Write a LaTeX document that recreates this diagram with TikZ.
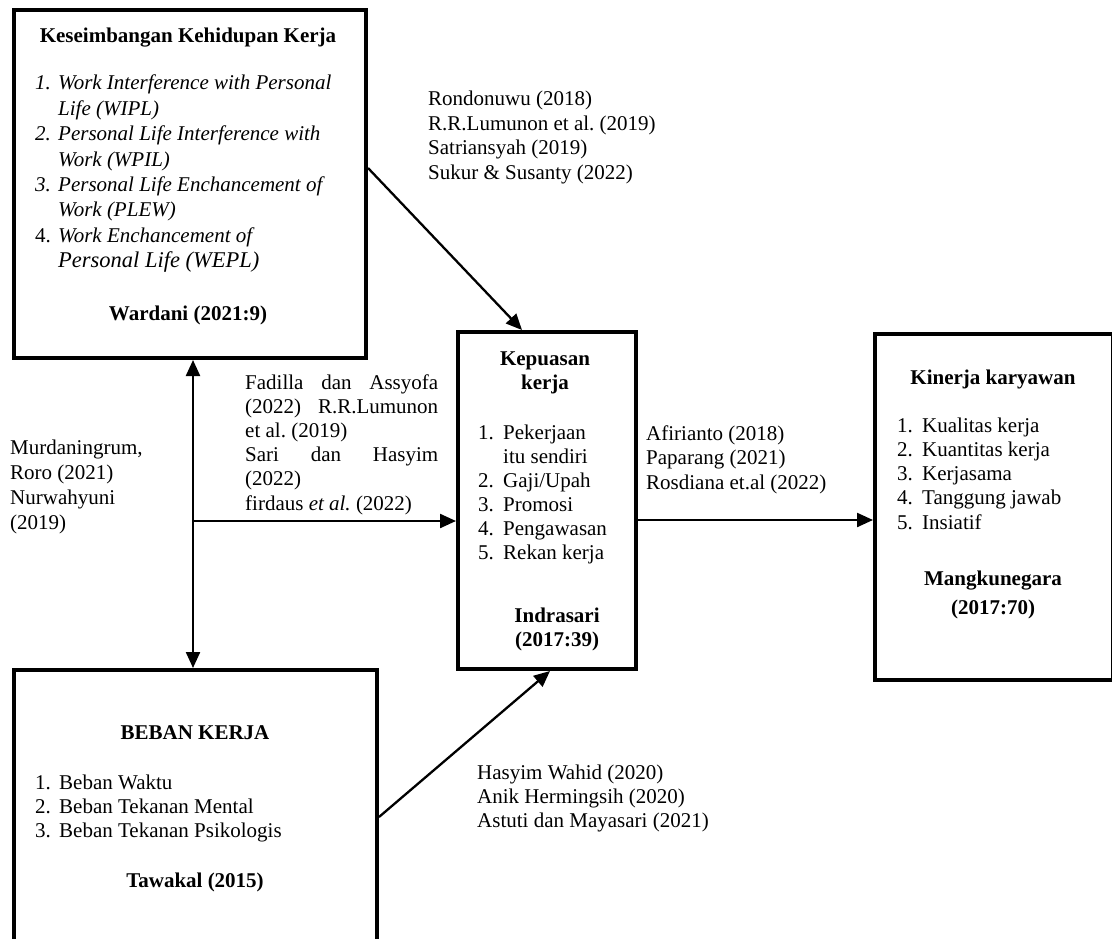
\documentclass[tikz,border=0pt]{standalone}
\usepackage{fontspec}
\setmainfont{Liberation Serif}
\usetikzlibrary{arrows.meta,calc}
\frenchspacing
\begin{document}
\begin{tikzpicture}[x=1pt,y=-1pt,
  box/.style={draw,line width=4pt,inner sep=0,anchor=north west},
  conn/.style={line width=2.3pt,-{Triangle[length=16pt,width=14pt]}},
  bconn/.style={line width=2.3pt,{Triangle[length=16pt,width=14pt]}-{Triangle[length=16pt,width=14pt]}},
  txt/.style={inner sep=0,anchor=north west,font=\fontsize{21}{24.5}\selectfont},
  ctxt/.style={inner sep=0,anchor=north,font=\bfseries\fontsize{21}{24.5}\selectfont},
]
\useasboundingbox (0,0) rectangle (1112,939);
% boxes
\node[box,minimum width=352pt,minimum height=348pt] (tl) at (12,8) {};
\node[box,minimum width=178pt,minimum height=337pt] (cen) at (456,330) {};
\node[box,minimum width=238pt,minimum height=346pt] (rt) at (873,332) {};
\node[box,minimum width=363pt,minimum height=290pt] (bl) at (12,668) {};

% top-left box text
\node[ctxt] (tlh) at (188,25) {Keseimbangan Kehidupan Kerja\strut};
\node[txt,font=\itshape\fontsize{21}{25.4}\selectfont] (tll) at (35,72) {%
\begin{tabular}{@{}p{23pt}@{}l@{}}
1. & Work Interference with Personal\\
   & Life (WIPL)\\
2. & Personal Life Interference with\\
   & Work (WPIL)\\
3. & Personal Life Enchancement of\\
   & Work (PLEW)\\
\upshape 4. & Work Enchancement of\\
   & {\fontsize{22.5}{25.4}\selectfont Personal Life (WEPL)}
\end{tabular}};
\node[ctxt] (tlw) at (188,303) {Wardani (2021:9)\strut};

% centre box text
\node[ctxt] (ch) at (545,348) {\begin{tabular}{@{}c@{}}Kepuasan\\kerja\end{tabular}};
\node[txt,font=\fontsize{21}{24}\selectfont] (cl) at (478,422) {%
\begin{tabular}{@{}p{25pt}@{}l@{}}
1. & Pekerjaan\\
   & itu sendiri\\
2. & Gaji/Upah\\
3. & Promosi\\
4. & Pengawasan\\
5. & Rekan kerja
\end{tabular}};
\node[ctxt] (cw) at (557,605) {\begin{tabular}{@{}c@{}}Indrasari\\(2017:39)\end{tabular}};

% right box text
\node[ctxt] (rh) at (993,367) {Kinerja karyawan\strut};
\node[txt,font=\fontsize{21}{24.25}\selectfont] (rl) at (897,415) {%
\begin{tabular}{@{}p{25pt}@{}l@{}}
1. & Kualitas kerja\\
2. & Kuantitas kerja\\
3. & Kerjasama\\
4. & Tanggung jawab\\
5. & Insiatif
\end{tabular}};
\node[ctxt,font=\bfseries\fontsize{21}{29}\selectfont] (rw) at (993,565) {\begin{tabular}{@{}c@{}}Mangkunegara\\(2017:70)\end{tabular}};

% bottom box text
\node[ctxt] (bh) at (195,722) {BEBAN KERJA\strut};
\node[txt,font=\fontsize{21}{24}\selectfont] (bll) at (35,772) {%
\begin{tabular}{@{}p{24pt}@{}l@{}}
1. & Beban Waktu\\
2. & Beban Tekanan Mental\\
3. & Beban Tekanan Psikologis
\end{tabular}};
\node[ctxt] (bw) at (195,870) {Tawakal (2015)\strut};

% connector labels
\node[txt,font=\fontsize{21}{24.7}\selectfont] (lab1) at (428,88) {%
\begin{tabular}{@{}l@{}}
Rondonuwu (2018)\\
R.R.Lumunon et al. (2019)\\
Satriansyah (2019)\\
Sukur \& Susanty (2022)
\end{tabular}};
\node[txt,font=\fontsize{21}{24.2}\selectfont] (lab2) at (245,372) {%
\begin{tabular}{@{}l@{}}
\makebox[193pt][s]{Fadilla dan Assyofa}\\
\makebox[193pt][s]{(2022) R.R.Lumunon}\\
et al. (2019)\\
\makebox[193pt][s]{Sari dan Hasyim}\\
(2022)\\
firdaus \textit{et al.} (2022)
\end{tabular}};
\node[txt,font=\fontsize{21}{25}\selectfont] (lab3) at (10,437) {%
\begin{tabular}{@{}l@{}}
Murdaningrum,\\
Roro (2021)\\
Nurwahyuni\\
(2019)
\end{tabular}};
\node[txt,font=\fontsize{21}{24.5}\selectfont] (lab4) at (646,423) {%
\begin{tabular}{@{}l@{}}
Afirianto (2018)\\
Paparang (2021)\\
Rosdiana et.al (2022)
\end{tabular}};
\node[txt,font=\fontsize{21}{24}\selectfont] (lab5) at (477,762) {%
\begin{tabular}{@{}l@{}}
Hasyim Wahid (2020)\\
Anik Hermingsih (2020)\\
Astuti dan Mayasari (2021)
\end{tabular}};

% connectors
\coordinate (a1) at (365,168);
\coordinate (a2) at (522,330);
\coordinate (vx) at (193,521);
\coordinate (a4) at (634,520);
\coordinate (a5) at (376,817);
\coordinate (a6) at (550,668);
\draw[conn] (tl.east |- a1) -- (cen.north -| a2);
\draw[bconn] (tl.south -| vx) -- (bl.north -| vx);
\draw[conn] (vx) -- (cen.west |- vx);
\draw[conn] (cen.east |- a4) -- (rt.west |- a4);
\draw[conn] (bl.east |- a5) -- (cen.south -| a6);
\end{tikzpicture}
\end{document}
